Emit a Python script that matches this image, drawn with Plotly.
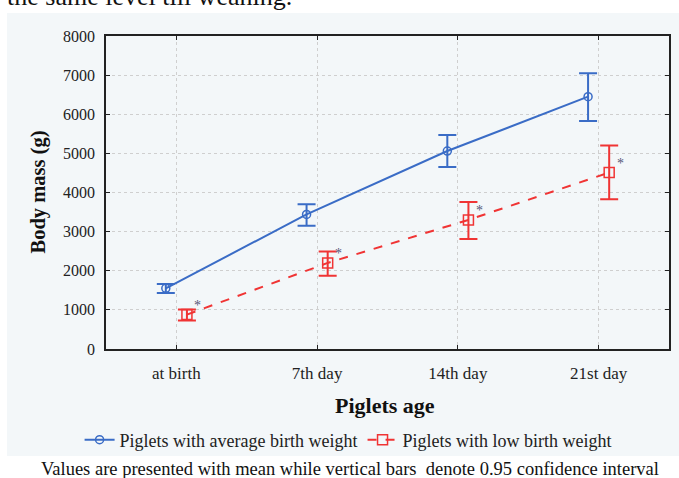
import plotly.graph_objects as go

categories = ["at birth", "7th day", "14th day", "21st day"]
avg_mean = [1550, 3440, 5060, 6450]
avg_err_plus = [110, 260, 410, 600]
avg_err_minus = [120, 290, 410, 620]
low_mean = [880, 2200, 3300, 4510]
low_err_plus = [130, 290, 460, 690]
low_err_minus = [150, 330, 490, 680]
y_ticks = [0, 1000, 2000, 3000, 4000, 5000, 6000, 7000, 8000]

BLUE = "#3a6cc6"
RED = "#f03434"
SERIF = "Liberation Serif, Times New Roman, serif"

idx = list(range(len(categories)))
off = 0.075
x_avg = [i - off for i in idx]
x_low = [i + off for i in idx]

fig = go.Figure()
fig.add_trace(go.Scatter(
    x=x_avg, y=avg_mean, mode="lines+markers",
    name="Piglets with average birth weight",
    line=dict(color=BLUE, width=2),
    marker=dict(symbol="circle-open", size=8, color=BLUE, line=dict(width=1.5)),
    error_y=dict(type="data", symmetric=False, array=avg_err_plus, arrayminus=avg_err_minus,
                 color=BLUE, thickness=2, width=9),
))
fig.add_trace(go.Scatter(
    x=x_low, y=low_mean, mode="lines+markers",
    name="Piglets with low birth weight",
    line=dict(color=RED, width=2, dash="dash"),
    marker=dict(symbol="square-open", size=10, color=RED, line=dict(width=1.5)),
    error_y=dict(type="data", symmetric=False, array=low_err_plus, arrayminus=low_err_minus,
                 color=RED, thickness=2, width=9),
))

annotations = []
for xi, yi in zip(x_low, low_mean):
    annotations.append(dict(x=xi, y=yi, xref="x", yref="y", text="*", showarrow=False,
                            xshift=11, yshift=9, font=dict(family=SERIF, size=14, color="#555577")))

annotations += [
    dict(text="<b>Piglets age</b>", x=0.496, y=(349 - 405) / 313, xref="paper", yref="paper",
         showarrow=False, yanchor="middle", font=dict(family=SERIF, size=22, color="#111")),
    dict(text="<b>Body mass (g)</b>", x=(38 - 106) / 563, y=0.5, xref="paper", yref="paper",
         textangle=-90, showarrow=False, xanchor="center", font=dict(family=SERIF, size=20.5, color="#111")),
    dict(text="the same level till weaning.", x=(5 - 106) / 563, y=(349 - 13) / 313,
         xref="paper", yref="paper", xanchor="left", yanchor="bottom", showarrow=False,
         font=dict(family=SERIF, size=26, color="#111")),
    dict(text="Values are presented with mean while vertical bars&nbsp; denote 0.95 confidence interval",
         x=(350 - 106) / 563, y=(349 - 469) / 313, xref="paper", yref="paper",
         xanchor="center", yanchor="middle", showarrow=False,
         font=dict(family=SERIF, size=18.5, color="#111")),
]

shapes = [dict(type="rect", xref="paper", yref="paper", layer="below",
               x0=(7 - 106) / 563, x1=1.03, y0=(349 - 456) / 313, y1=(349 - 13) / 313,
               fillcolor="#f3f7f9", line=dict(width=0))]

axis_common = dict(showline=True, linecolor="#222", linewidth=1.5, mirror="ticks",
                   ticks="inside", ticklen=4, tickcolor="#222", zeroline=False,
                   showgrid=True, gridcolor="#cfcfcf", griddash="dot", gridwidth=1)

fig.update_layout(
    width=679, height=478,
    margin=dict(l=106, r=10, t=36, b=129, autoexpand=False),
    paper_bgcolor="white", plot_bgcolor="white",
    showlegend=True,
    legend=dict(orientation="h", x=0.43, xanchor="center", y=(349 - 440) / 313, yanchor="middle",
                bgcolor="rgba(0,0,0,0)", font=dict(family=SERIF, size=18, color="#222"),
                itemwidth=30, tracegroupgap=0),
    annotations=annotations, shapes=shapes,
    xaxis=dict(range=[-0.5, 3.5], tickmode="array", tickvals=idx, ticktext=categories,
               ticklabelstandoff=8, automargin=False,
               tickfont=dict(family=SERIF, size=17, color="#222"), **axis_common),
    yaxis=dict(range=[0, 8000], tickmode="array", tickvals=y_ticks,
               ticktext=[str(v) for v in y_ticks], ticklabelstandoff=6, automargin=False,
               tickfont=dict(family=SERIF, size=16, color="#222"), **axis_common),
)

fig.write_html("out.html", config={"displayModeBar": False},
               post_script="document.body.style.margin='0';document.body.style.overflow='hidden';")
